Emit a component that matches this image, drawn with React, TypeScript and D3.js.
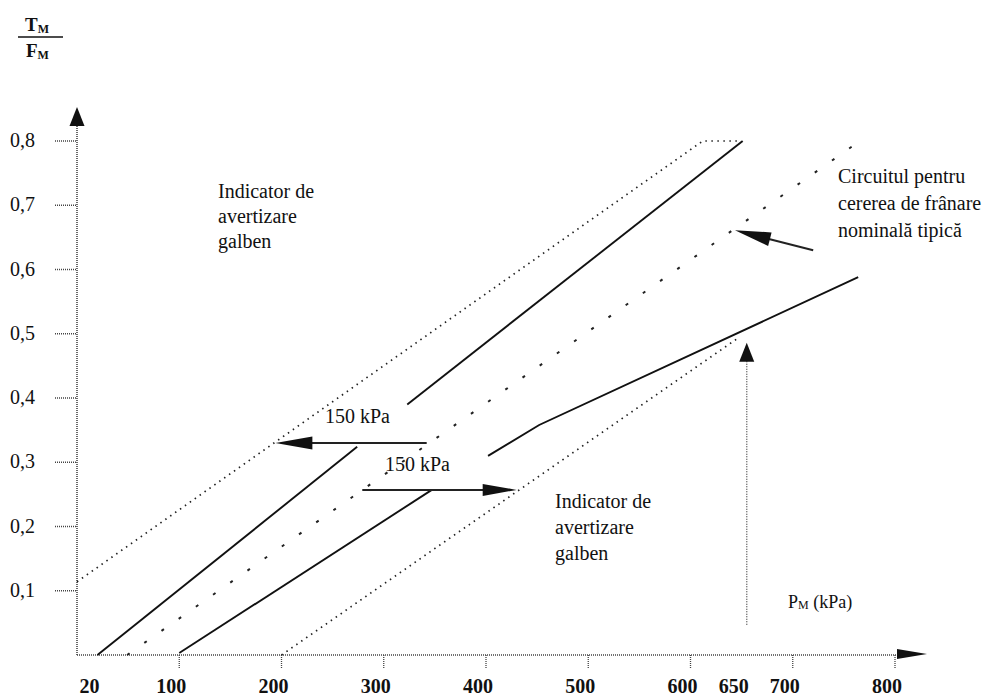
import React from "react";
import * as d3 from "d3";

// ---- data (kPa, T_M/F_M ratio) ----
const xTickValues = [100, 200, 300, 400, 500, 600, 700, 800];
const xLabelValues = [20, 100, 200, 300, 400, 500, 600, 650, 700, 800];
const yTickValues = [0.1, 0.2, 0.3, 0.4, 0.5, 0.6, 0.7, 0.8];
const yTickLabels = ["0,1", "0,2", "0,3", "0,4", "0,5", "0,6", "0,7", "0,8"];

const upperBound: [number, number][] = [[0, 0.114], [612, 0.8], [648, 0.8]];
const upperSolidA: [number, number][] = [[20, 0], [274, 0.324]];
const upperSolidB: [number, number][] = [[323, 0.39], [651, 0.8]];
const nominal: [number, number][] = [[49, 0], [771, 0.806]];
const lowerSolidA: [number, number][] = [[100, 0.003], [347, 0.257]];
const lowerSolidB: [number, number][] = [[402, 0.31], [452, 0.358], [764, 0.588]];
const lowerBound: [number, number][] = [[200, 0], [648, 0.495]];

// annotation arrows: [from, to]
const arrowLeft: [number, number][] = [[342, 0.33], [194, 0.33]];
const arrowRight: [number, number][] = [[279, 0.257], [430, 0.257]];
const arrowNominal: [number, number][] = [[720, 0.63], [643.5, 0.661]];
const arrowVertical: [number, number][] = [[655, 0.047], [655, 0.486]];

const FONT = "'Liberation Serif', 'DejaVu Serif', serif";

function head(tip: [number, number], from: [number, number], len: number, hw: number) {
  const dx = tip[0] - from[0];
  const dy = tip[1] - from[1];
  const L = Math.hypot(dx, dy);
  const ux = dx / L, uy = dy / L;
  const bx = tip[0] - ux * len, by = tip[1] - uy * len;
  const px = -uy, py = ux;
  return `M${tip[0]},${tip[1]}L${bx + px * hw},${by + py * hw}L${bx - px * hw},${by - py * hw}Z`;
}

export default function App() {
  const x = d3.scaleLinear().domain([0, 800]).range([77, 895]);
  const y = d3.scaleLinear().domain([0, 0.8]).range([655, 141]);
  const line = d3.line<[number, number]>().x((d) => x(d[0])).y((d) => y(d[1]));

  const px = (d: [number, number]): [number, number] => [x(d[0]), y(d[1])];

  const annot = (a: [number, number][], len: number, hw: number, dashed = false, sw = 2) => {
    const f = px(a[0]);
    const t = px(a[1]);
    const L = Math.hypot(t[0] - f[0], t[1] - f[1]);
    const ux = (t[0] - f[0]) / L, uy = (t[1] - f[1]) / L;
    return (
      <g>
        <line x1={f[0]} y1={f[1]} x2={t[0] - ux * (len - 2)} y2={t[1] - uy * (len - 2)}
          stroke={dashed ? "#555" : "#222"} strokeWidth={sw} strokeDasharray={dashed ? "1,1.5" : undefined} />
        <path d={head(t, f, len, hw)} fill="#111" />
      </g>
    );
  };

  const textStyle = { fontFamily: FONT, fontSize: 20, fill: "#111" } as React.CSSProperties;

  return (
    <svg width={987} height={697} style={{ position: "absolute", left: 0, top: 0, background: "#fff" }}>
      <rect width={987} height={697} fill="#fff" />

      {/* y axis label */}
      <text x={25} y={31} style={{ fontFamily: FONT, fontSize: 19, fontWeight: "bold", fill: "#111" }}>
        T<tspan fontSize={12} dy={2}>M</tspan>
      </text>
      <line x1={18} x2={63} y1={37} y2={37} stroke="#111" strokeWidth={1.6} />
      <text x={26} y={57} style={{ fontFamily: FONT, fontSize: 19, fontWeight: "bold", fill: "#111" }}>
        F<tspan fontSize={12} dy={2}>M</tspan>
      </text>

      {/* axes */}
      <line x1={x(0)} x2={x(0)} y1={y(0)} y2={124} stroke="#444" strokeWidth={1.6} strokeDasharray="1,1" />
      <path d={head([x(0), 107], [x(0), 200], 19, 7.5)} fill="#111" />
      <line x1={x(0)} x2={899} y1={y(0)} y2={y(0)} stroke="#444" strokeWidth={1.6} strokeDasharray="1,1" />
      <path d={head([927, y(0) - 1], [800, y(0) - 1], 30, 5)} fill="#111" />

      {/* y ticks */}
      {yTickValues.map((v, i) => (
        <g key={"yt" + v}>
          <line x1={55} x2={x(0)} y1={y(v)} y2={y(v)} stroke="#444" strokeWidth={1.3} strokeDasharray="1,1" />
          <text x={10} y={y(v) + 6} style={textStyle}>{yTickLabels[i]}</text>
        </g>
      ))}

      {/* x ticks */}
      {xTickValues.map((v) => (
        <line key={"xt" + v} x1={x(v)} x2={x(v)} y1={y(0)} y2={y(0) + 13} stroke="#444" strokeWidth={1.3} strokeDasharray="1,1" />
      ))}
      {xLabelValues.map((v) => (
        <text key={"xl" + v} x={x(v) - 8} y={693} textAnchor="middle"
          style={{ fontFamily: FONT, fontSize: 20, fontWeight: "bold", fill: "#111" }}>{v}</text>
      ))}

      {/* boundary dotted lines */}
      <path d={line(upperBound) || ""} fill="none" stroke="#222" strokeWidth={1.7} strokeDasharray="1.5,4.5" />
      <path d={line(lowerBound) || ""} fill="none" stroke="#222" strokeWidth={1.7} strokeDasharray="1.5,4.5" />
      {/* nominal */}
      <path d={line(nominal) || ""} fill="none" stroke="#222" strokeWidth={2} strokeDasharray="3,18" />
      {/* solid limits */}
      {[upperSolidA, upperSolidB, lowerSolidA, lowerSolidB].map((s, i) => (
        <path key={"s" + i} d={line(s) || ""} fill="none" stroke="#111" strokeWidth={1.9} />
      ))}

      {/* annotation arrows */}
      {annot(arrowLeft, 37, 6.5)}
      {annot(arrowRight, 34, 6)}
      {annot(arrowNominal, 36, 7)}
      {annot(arrowVertical, 19, 7.5, true, 1.4)}

      {/* texts */}
      <text x={325} y={423} style={textStyle}>150 kPa</text>
      <text x={385} y={471} style={textStyle}>150 kPa</text>

      <text style={textStyle}>
        <tspan x={218} y={198}>Indicator de</tspan>
        <tspan x={218} y={223}>avertizare</tspan>
        <tspan x={218} y={248}>galben</tspan>
      </text>
      <text style={textStyle}>
        <tspan x={555} y={508}>Indicator de</tspan>
        <tspan x={555} y={534}>avertizare</tspan>
        <tspan x={555} y={560}>galben</tspan>
      </text>
      <text style={textStyle}>
        <tspan x={838} y={183}>Circuitul pentru</tspan>
        <tspan x={838} y={210}>cererea de frânare</tspan>
        <tspan x={838} y={237}>nominală tipică</tspan>
      </text>
      <text x={788} y={608} style={{ fontFamily: FONT, fontSize: 18, fill: "#111" }}>
        P<tspan fontSize={12} dy={1}>M</tspan><tspan dy={-1}> (kPa)</tspan>
      </text>
    </svg>
  );
}
